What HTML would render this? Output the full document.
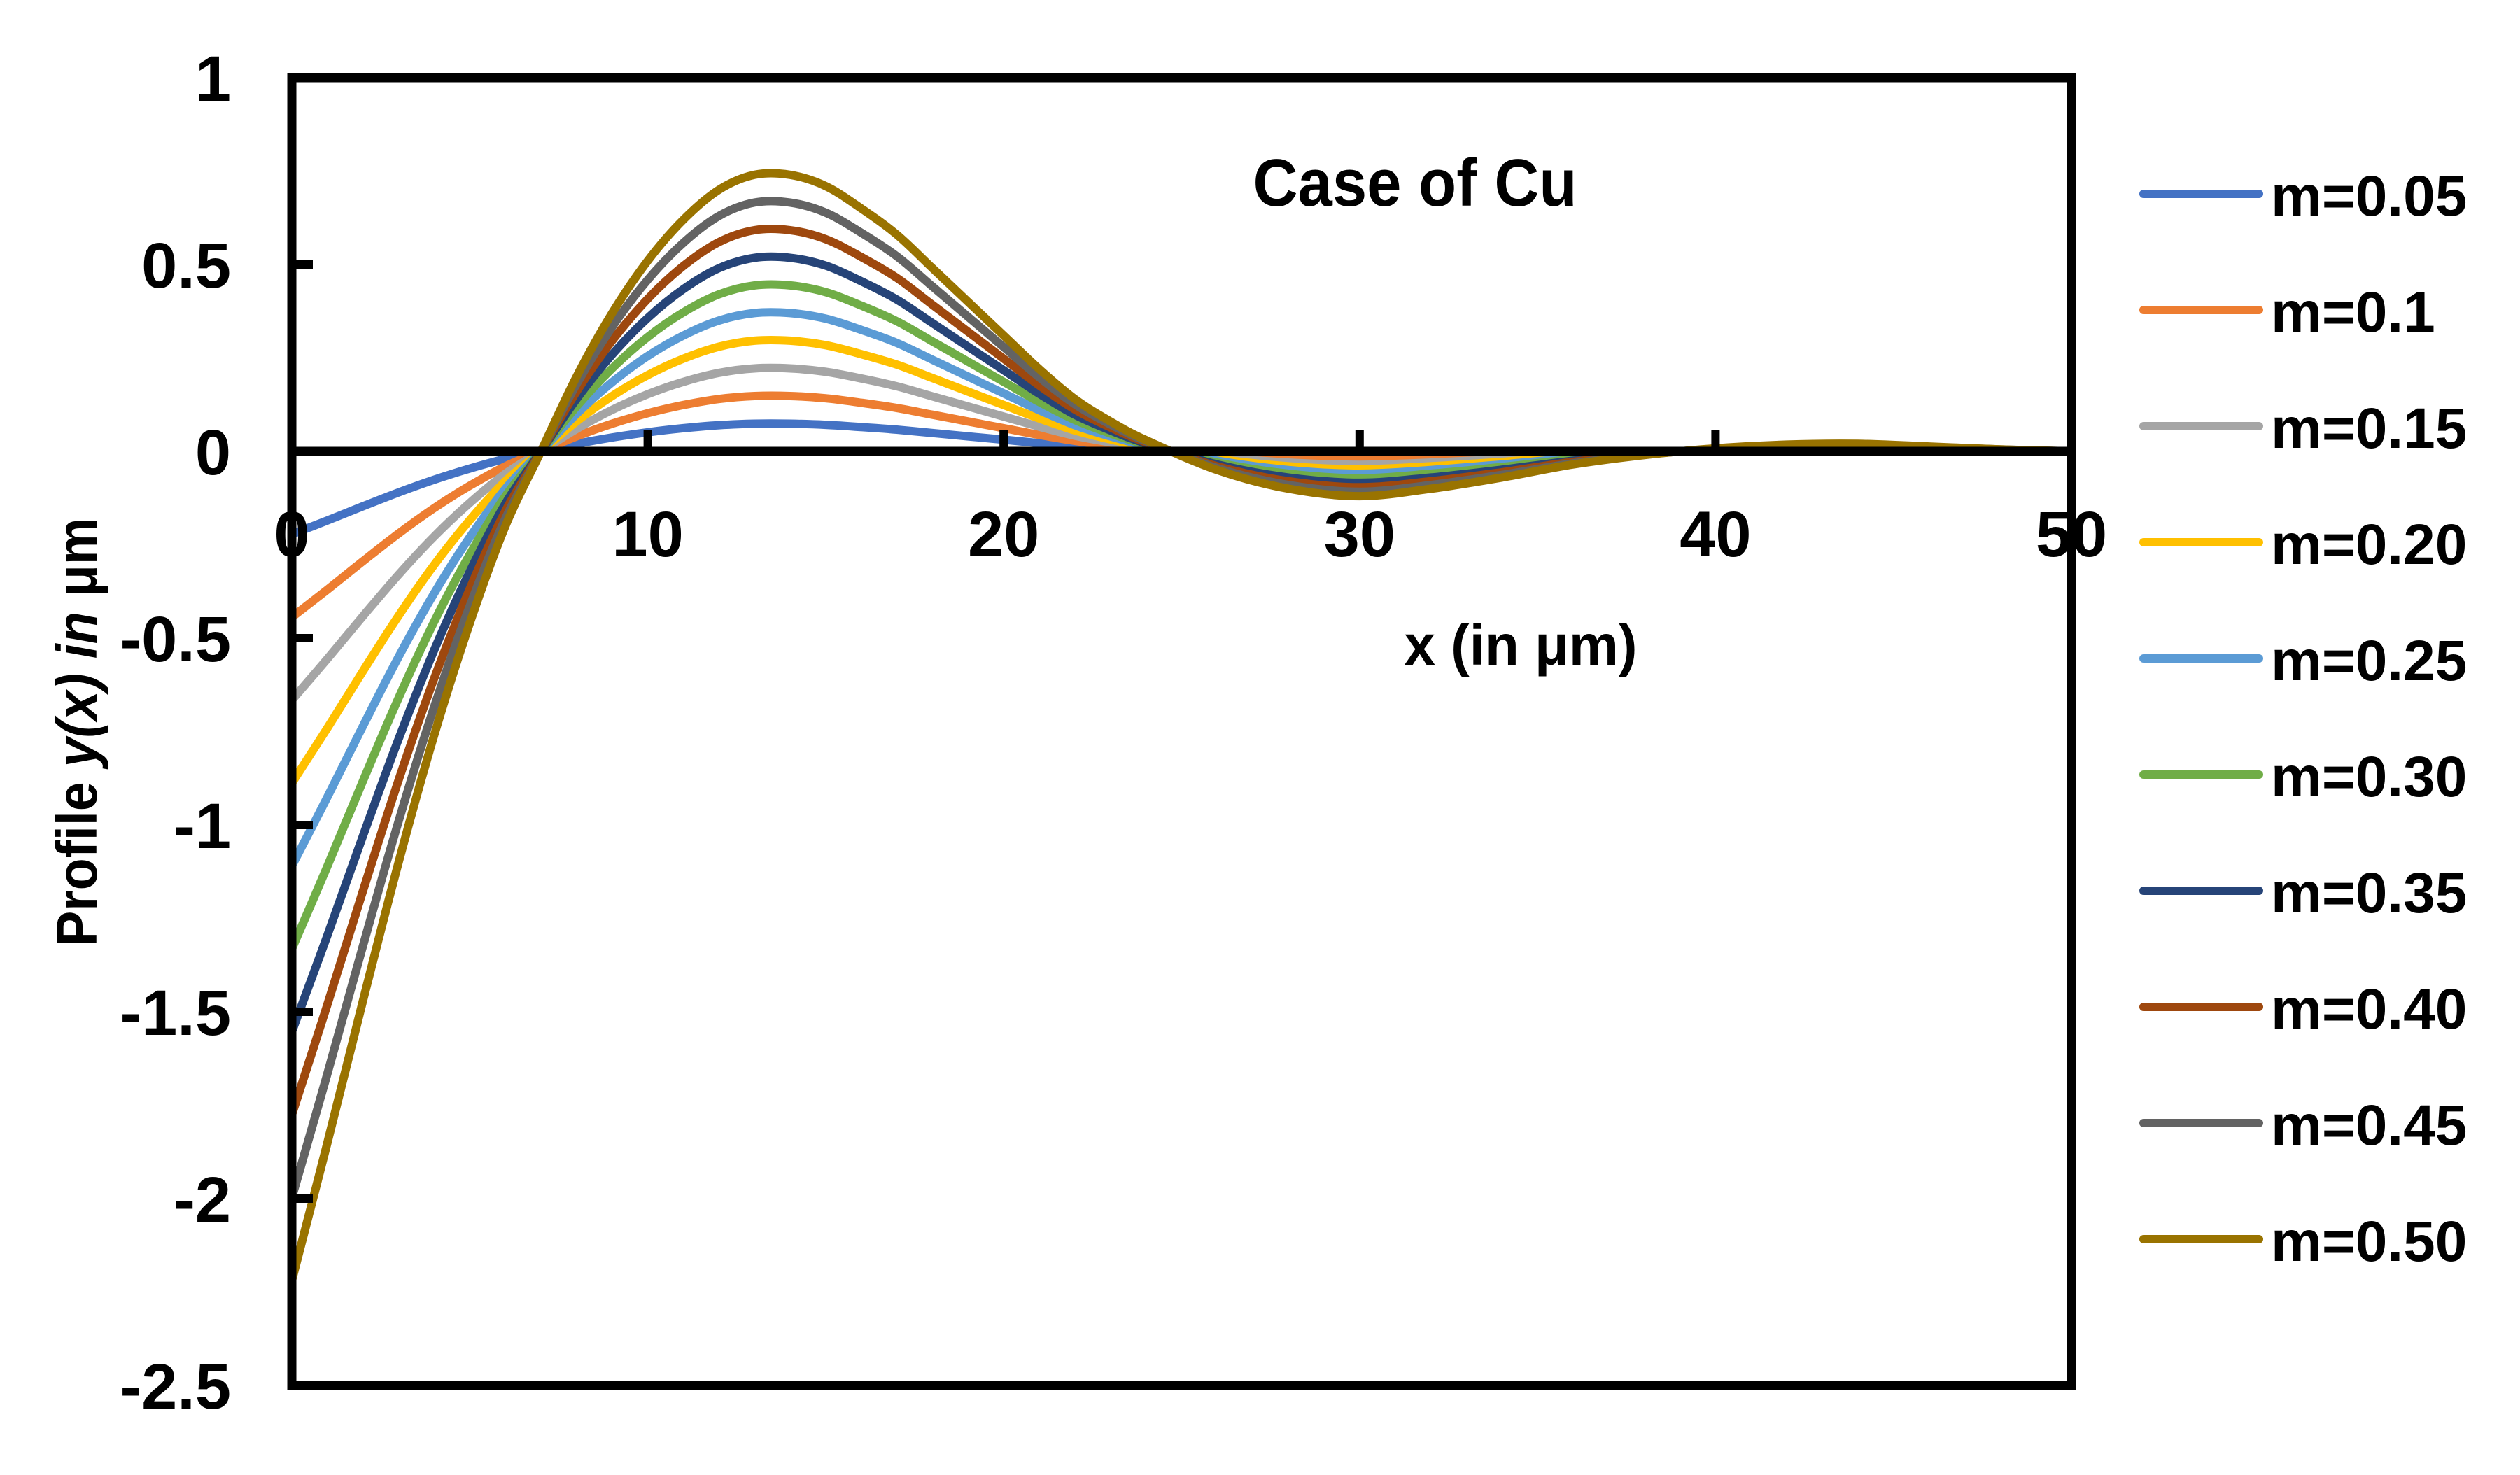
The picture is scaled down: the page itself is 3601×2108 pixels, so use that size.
<!DOCTYPE html>
<html><head><meta charset="utf-8"><style>
html,body{margin:0;padding:0;background:#fff;}
svg{display:block;font-family:"Liberation Sans",sans-serif;font-weight:bold;}
</style></head><body>
<svg id="chart" width="3601" height="2108" viewBox="0 0 3601 2108" xmlns="http://www.w3.org/2000/svg">
<rect width="3601" height="2108" fill="#fff"/>
<g id="plot"></g>
<g id="axes"></g>
<text x="2022" y="294" font-size="96" text-anchor="middle" textLength="463" lengthAdjust="spacingAndGlyphs">Case of Cu</text>
<text x="2173" y="950" font-size="82" text-anchor="middle" textLength="333" lengthAdjust="spacingAndGlyphs">x (in μm)</text>
<text transform="translate(138,1046) rotate(-90)" font-size="82" text-anchor="middle" textLength="612" lengthAdjust="spacingAndGlyphs">Profile <tspan font-style="italic">y(x) in</tspan> μm</text>
<g id="legend"></g>
</svg>
<script>
const xs = [0,1,2,3,4,5,6,7,8,9,10,11,12,13,14,15,16,17,18,19,20,21,22,23,24,26,28,30,32,34,36,38,40,42,44,46,48,50];
const seriesNames = ["m=0.05","m=0.1","m=0.15","m=0.20","m=0.25","m=0.30","m=0.35","m=0.40","m=0.45","m=0.50"];
const y005 = [-0.222,-0.185,-0.147,-0.110,-0.076,-0.046,-0.020,0,0.020,0.037,0.051,0.062,0.070,0.074,0.074,0.071,0.065,0.058,0.049,0.040,0.031,0.022,0.014,0.008,0.003,-0.005,-0.010,-0.012,-0.010,-0.007,-0.0035,-0.001,0.0008,0.0018,0.002,0.0013,0.0005,0];
const y010 = [-0.444,-0.37,-0.294,-0.22,-0.152,-0.092,-0.04,0,0.04,0.074,0.102,0.124,0.14,0.148,0.148,0.142,0.13,0.116,0.098,0.08,0.062,0.044,0.028,0.016,0.006,-0.01,-0.02,-0.024,-0.02,-0.014,-0.007,-0.002,0.002,0.004,0.004,0.003,0.001,0];
const y015 = [-0.666,-0.555,-0.441,-0.33,-0.228,-0.138,-0.06,0,0.06,0.111,0.153,0.186,0.21,0.222,0.222,0.213,0.195,0.174,0.147,0.12,0.093,0.066,0.042,0.024,0.009,-0.015,-0.03,-0.036,-0.03,-0.021,-0.011,-0.003,0.002,0.005,0.006,0.004,0.002,0];
const y020 = [-0.888,-0.74,-0.588,-0.44,-0.304,-0.184,-0.08,0,0.08,0.148,0.204,0.248,0.28,0.296,0.296,0.284,0.26,0.232,0.196,0.16,0.124,0.088,0.056,0.032,0.012,-0.02,-0.04,-0.048,-0.04,-0.028,-0.014,-0.004,0.003,0.007,0.008,0.005,0.002,0];
const y025 = [-1.11,-0.925,-0.735,-0.55,-0.38,-0.23,-0.10,0,0.10,0.185,0.255,0.31,0.35,0.37,0.37,0.355,0.325,0.29,0.245,0.20,0.155,0.11,0.07,0.04,0.015,-0.025,-0.05,-0.06,-0.05,-0.035,-0.018,-0.005,0.004,0.009,0.01,0.007,0.003,0];
const y030 = [-1.332,-1.11,-0.882,-0.66,-0.456,-0.276,-0.12,0,0.12,0.222,0.306,0.372,0.42,0.444,0.444,0.426,0.39,0.348,0.294,0.24,0.186,0.132,0.084,0.048,0.018,-0.03,-0.06,-0.072,-0.06,-0.042,-0.021,-0.006,0.005,0.011,0.012,0.008,0.003,0];
const y035 = [-1.554,-1.295,-1.029,-0.77,-0.532,-0.322,-0.14,0,0.14,0.259,0.357,0.434,0.49,0.518,0.518,0.497,0.455,0.406,0.343,0.28,0.217,0.154,0.098,0.056,0.021,-0.035,-0.07,-0.084,-0.07,-0.049,-0.025,-0.007,0.006,0.013,0.014,0.009,0.004,0];
const y040 = [-1.776,-1.48,-1.176,-0.88,-0.608,-0.368,-0.16,0,0.16,0.296,0.408,0.496,0.56,0.592,0.592,0.568,0.52,0.464,0.392,0.32,0.248,0.176,0.112,0.064,0.024,-0.04,-0.08,-0.096,-0.08,-0.056,-0.028,-0.008,0.006,0.014,0.016,0.01,0.004,0];
const y045 = [-1.998,-1.665,-1.323,-0.99,-0.684,-0.414,-0.18,0,0.18,0.333,0.459,0.558,0.63,0.666,0.666,0.639,0.585,0.522,0.441,0.36,0.279,0.198,0.126,0.072,0.027,-0.045,-0.09,-0.108,-0.09,-0.063,-0.032,-0.009,0.007,0.016,0.018,0.012,0.005,0];
const y050 = [-2.22,-1.85,-1.47,-1.10,-0.76,-0.46,-0.20,0,0.20,0.37,0.51,0.62,0.70,0.74,0.74,0.71,0.65,0.58,0.49,0.40,0.31,0.22,0.14,0.08,0.03,-0.05,-0.10,-0.12,-0.10,-0.07,-0.035,-0.01,0.008,0.018,0.02,0.013,0.005,0];
const xTicks = [0,10,20,30,40,50];
const yTicks = [1,0.5,0,-0.5,-1,-1.5,-2,-2.5];

const series = [y005,y010,y015,y020,y025,y030,y035,y040,y045,y050];
const colors = ["#4472C4","#ED7D31","#A5A5A5","#FFC000","#5B9BD5","#70AD47","#264478","#9E480E","#636363","#997300"];
const L=417, R=2960, T=111, B=1980;
const xMin=0,xMax=50,yMin=-2.5,yMax=1;
const sx = v => L + (v-xMin)/(xMax-xMin)*(R-L);
const sy = v => B - (v-yMin)/(yMax-yMin)*(B-T);
const NS="http://www.w3.org/2000/svg";
function mk(tag, attrs, parent){const e=document.createElementNS(NS,tag);for(const k in attrs)e.setAttribute(k,attrs[k]);parent.appendChild(e);return e;}
const plot=document.getElementById('plot'), axes=document.getElementById('axes'), legend=document.getElementById('legend');

function pathFor(ys){
  const p=xs.map((x,i)=>[sx(x),sy(ys[i])]);
  let d="M"+p[0][0].toFixed(1)+","+p[0][1].toFixed(1);
  for(let i=0;i<p.length-1;i++){
    const p0=p[Math.max(i-1,0)],p1=p[i],p2=p[i+1],p3=p[Math.min(i+2,p.length-1)];
    const c1=[p1[0]+(p2[0]-p0[0])/6,p1[1]+(p2[1]-p0[1])/6];
    const c2=[p2[0]-(p3[0]-p1[0])/6,p2[1]-(p3[1]-p1[1])/6];
    d+=" C"+c1[0].toFixed(1)+","+c1[1].toFixed(1)+" "+c2[0].toFixed(1)+","+c2[1].toFixed(1)+" "+p2[0].toFixed(1)+","+p2[1].toFixed(1);
  }
  return d;
}

const frame=mk('rect',{x:L,y:T,width:R-L,height:B-T,fill:'none',stroke:'#000','stroke-width':13},axes);


const zl=mk('line',{x1:L,x2:R,y1:sy(0),y2:sy(0),stroke:'#000','stroke-width':13},axes);



yTicks.forEach(v=>{
  const t=mk('line',{x1:L,x2:L+30,y1:sy(v),y2:sy(v),stroke:'#000','stroke-width':12},axes);
  
  
  const lb=mk('text',{x:330,y:sy(v)+33,'font-size':92,'text-anchor':'end'},axes);
  lb.textContent=String(v);
  
  
});
xTicks.forEach(v=>{
  const t=mk('line',{x1:sx(v),x2:sx(v),y1:sy(0),y2:sy(0)-30,stroke:'#000','stroke-width':12},axes);
  
  
  const lb=mk('text',{x:sx(v),y:795,'font-size':92,'text-anchor':'middle'},axes);
  lb.textContent=String(v);
  
  
});

series.forEach((ys,i)=>{
  const p=mk('path',{d:pathFor(ys),fill:'none',stroke:colors[i],'stroke-width':12,'stroke-linejoin':'round'},plot);
  
  
  const ly=277+i*166;
  const g=mk('g',{},legend);
  
  
  mk('line',{x1:3063,x2:3228,y1:ly,y2:ly,stroke:colors[i],'stroke-width':12,'stroke-linecap':'round'},g);
  const tx=mk('text',{x:3245,y:ly+31,'font-size':82},g);
  tx.textContent=seriesNames[i];
});
</script>
</body></html>
